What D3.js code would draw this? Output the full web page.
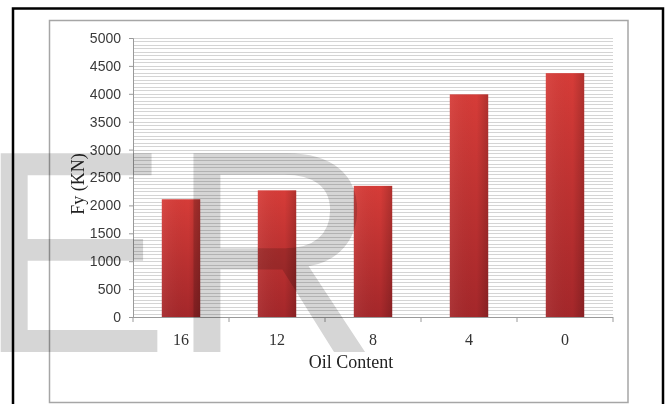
<!DOCTYPE html>
<html>
<head>
<meta charset="utf-8">
<script src="https://cdn.jsdelivr.net/npm/d3@7/dist/d3.min.js"></script>
<style>
  html, body { margin: 0; padding: 0; background: #fff; }
  svg { display: block; }
</style>
</head>
<body>
<svg id="chart" width="668" height="404"></svg>
<script>
// Yield force for each oil content level
const categories = ["16", "12", "8", "4", "0"];
const fyValues = [2110, 2270, 2350, 3990, 4370];
const yTickValues = [0, 500, 1000, 1500, 2000, 2500, 3000, 3500, 4000, 4500, 5000];
const xTitle = "Oil Content";
const yTitle = "Fy (KN)";
const watermarkText = "ER";

const svg = d3.select("#chart");
const W = 668, H = 404;
const plot = { left: 133, right: 613, top: 38, bottom: 317 };

svg.append("rect").attr("width", W).attr("height", H).attr("fill", "#fff");

// Bar gradients
const defs = svg.append("defs");
const vg = defs.append("linearGradient").attr("id", "barFill")
  .attr("x1", 0).attr("y1", 0).attr("x2", 0).attr("y2", 1);
vg.append("stop").attr("offset", "0%").attr("stop-color", "#d63c38");
vg.append("stop").attr("offset", "100%").attr("stop-color", "#a4272a");
const hg = defs.append("linearGradient").attr("id", "barShade")
  .attr("x1", 0).attr("y1", 0).attr("x2", 1).attr("y2", 0);
hg.append("stop").attr("offset", "0%").attr("stop-color", "#fff").attr("stop-opacity", 0.06);
hg.append("stop").attr("offset", "70%").attr("stop-color", "#000").attr("stop-opacity", 0.0);
hg.append("stop").attr("offset", "100%").attr("stop-color", "#000").attr("stop-opacity", 0.18);

// Outer border and chart-area frame
svg.append("rect").attr("x", 49.5).attr("y", 20.5).attr("width", 578.5).attr("height", 382)
  .attr("fill", "#fff").attr("stroke", "#a6a6a6").attr("stroke-width", 1.5);
svg.append("rect").attr("x", 13).attr("y", 8.5).attr("width", 650).attr("height", 400)
  .attr("fill", "none").attr("stroke", "#000").attr("stroke-width", 2.5);

const x = d3.scaleBand().domain(categories).range([plot.left, plot.right])
  .paddingInner(0.6).paddingOuter(0.3);
const xCat = d3.scaleBand().domain(categories).range([plot.left, plot.right]);
const y = d3.scaleLinear().domain([0, 5000]).range([plot.bottom, plot.top]);

// Dense horizontal gridlines
const gridValues = d3.range(0, 5000.1, 62.5);
svg.append("g").selectAll("line").data(gridValues).join("line")
  .attr("x1", plot.left).attr("x2", plot.right)
  .attr("y1", d => Math.round(y(d)) + 0.5).attr("y2", d => Math.round(y(d)) + 0.5)
  .attr("stroke", "#d4d4d4").attr("stroke-width", 1.2);

// Bars
const bars = svg.append("g");
bars.selectAll("rect.bar").data(fyValues).join("rect").attr("class", "bar")
  .attr("x", (d, i) => x(categories[i])).attr("width", x.bandwidth())
  .attr("y", d => y(d)).attr("height", d => y(0) - y(d))
  .attr("fill", "url(#barFill)");
bars.selectAll("rect.shade").data(fyValues).join("rect").attr("class", "shade")
  .attr("x", (d, i) => x(categories[i])).attr("width", x.bandwidth())
  .attr("y", d => y(d)).attr("height", d => y(0) - y(d))
  .attr("fill", "url(#barShade)");

// Y axis
const yAxis = d3.axisLeft(y).tickValues(yTickValues).tickSize(4).tickPadding(8)
  .tickFormat(d3.format("d"));
const gy = svg.append("g").attr("transform", `translate(${plot.left},0)`).call(yAxis);
gy.select(".domain").attr("stroke", "#9a9a9a");
gy.selectAll(".tick line").attr("stroke", "#9a9a9a");
gy.selectAll(".tick text").attr("fill", "#3a3a3a")
  .style("font-family", "'Liberation Sans', Arial, sans-serif").style("font-size", "14px");

// X axis: category boundary ticks and labels
svg.append("line").attr("x1", plot.left).attr("x2", plot.right)
  .attr("y1", plot.bottom + 0.5).attr("y2", plot.bottom + 0.5).attr("stroke", "#9a9a9a");
const boundaries = categories.map(c => xCat(c)).concat([plot.right]);
svg.append("g").selectAll("line").data(boundaries).join("line")
  .attr("x1", d => d).attr("x2", d => d)
  .attr("y1", plot.bottom).attr("y2", plot.bottom + 5).attr("stroke", "#9a9a9a");
svg.append("g").selectAll("text").data(categories).join("text")
  .attr("x", d => xCat(d) + xCat.bandwidth() / 2).attr("y", 345)
  .attr("text-anchor", "middle").attr("fill", "#333")
  .style("font-family", "'Liberation Serif', 'Times New Roman', serif").style("font-size", "16px")
  .text(d => d);

// Axis titles
svg.append("text").attr("x", 351).attr("y", 368).attr("text-anchor", "middle")
  .attr("fill", "#222")
  .style("font-family", "'Liberation Serif', 'Times New Roman', serif").style("font-size", "18px")
  .text(xTitle);
svg.append("text").attr("transform", "translate(84,184) rotate(-90)").attr("text-anchor", "middle")
  .attr("fill", "#222")
  .style("font-family", "'Liberation Serif', 'Times New Roman', serif").style("font-size", "18px")
  .text(yTitle);

// Publisher watermark
svg.append("text").attr("x", -23).attr("y", 352)
  .attr("fill", "#d6d6d6")
  .style("mix-blend-mode", "multiply")
  .style("font-family", "'Liberation Sans', Arial, sans-serif").style("font-size", "289px")
  .text(watermarkText);
</script>
</body>
</html>
